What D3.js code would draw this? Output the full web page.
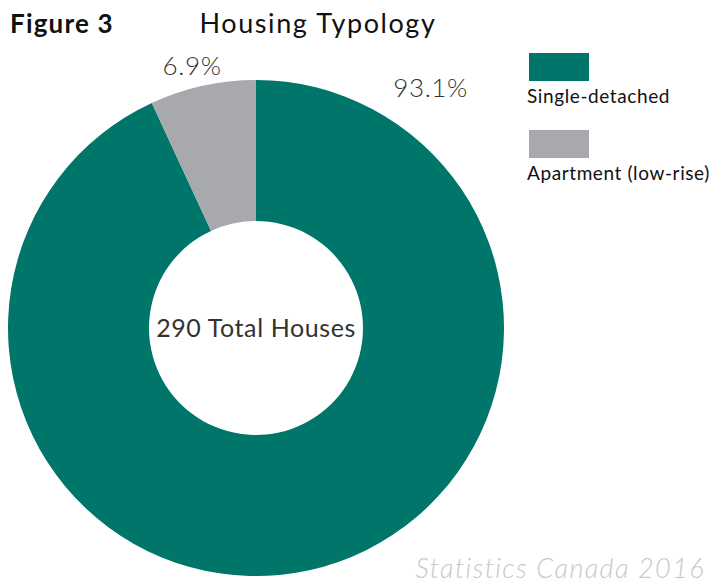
<!DOCTYPE html>
<html>
<head>
<meta charset="utf-8">
<script src="https://cdn.jsdelivr.net/npm/d3@7"></script>
<style>
  body { margin: 0; background: #fff; }
  svg text { font-family: Lato, "Open Sans", sans-serif; }
</style>
</head>
<body>
<svg id="chart"></svg>
<script>
// data
const categories = ["Single-detached", "Apartment (low-rise)"];
const shares = [93.1, 6.9];
const totalHouses = 290;
const colors = ["#00756a", "#a7a9ac"];

const width = 712, height = 584;
const cx = 256, cy = 328;
const outerR = 248, innerR = 107;

const svg = d3.select("#chart").attr("width", width).attr("height", height);

// titles
svg.append("text").attr("x", 10).attr("y", 33)
    .attr("font-size", 26).attr("font-weight", 700).attr("fill", "#111")
    .attr("letter-spacing", 1.2)
    .text("Figure 3");
svg.append("text").attr("x", 318).attr("y", 33)
    .attr("text-anchor", "middle")
    .attr("font-size", 27).attr("fill", "#111")
    .attr("letter-spacing", 1.6)
    .text("Housing Typology");

const color = d3.scaleOrdinal().domain(categories).range(colors);

const pie = d3.pie().sort(null).value(d => d.value);
const arcs = pie(categories.map((c, i) => ({name: c, value: shares[i]})));
const arc = d3.arc().innerRadius(innerR).outerRadius(outerR);

const g = svg.append("g").attr("transform", `translate(${cx},${cy})`);
g.selectAll("path")
    .data(arcs)
    .enter()
    .append("path")
        .attr("d", arc)
        .attr("fill", d => color(d.data.name));

// percentage labels, placed where Excel put them (outside the ring)
const labelAngle = [36, -13.7].map(a => a * Math.PI / 180);
const labelR = [297, 270];
g.selectAll("text.pct")
    .data(arcs)
    .enter()
    .append("text")
        .attr("class", "pct")
        .attr("transform", (d, i) =>
            `translate(${labelR[i] * Math.sin(labelAngle[i])},${-labelR[i] * Math.cos(labelAngle[i])})`)
        .attr("text-anchor", "middle")
        .attr("dy", "0.35em")
        .attr("font-size", 26)
        .attr("font-weight", 300)
        .attr("letter-spacing", 0.6)
        .attr("fill", "#333")
        .text(d => d3.format(".1f")(d.data.value) + "%");

// centre label
g.append("text")
    .attr("text-anchor", "middle")
    .attr("dy", "0.35em")
    .attr("font-size", 25)
    .attr("letter-spacing", 0.6)
    .attr("fill", "#333")
    .text(`${totalHouses} Total Houses`);

// legend
const legend = svg.append("g").attr("transform", "translate(529,53)");
const item = legend.selectAll("g")
    .data(categories)
    .enter()
    .append("g")
        .attr("transform", (d, i) => `translate(0,${i * 77})`);
item.append("rect")
    .attr("width", 60).attr("height", 28)
    .attr("fill", d => color(d));
item.append("text")
    .attr("x", -2).attr("y", 50)
    .attr("font-size", 19)
    .attr("letter-spacing", 0.6)
    .attr("fill", "#111")
    .text(d => d);

// source
svg.append("text")
    .attr("x", 705).attr("y", 578)
    .attr("text-anchor", "end")
    .attr("font-size", 27)
    .attr("font-style", "italic")
    .attr("font-weight", 300)
    .attr("letter-spacing", 1.4)
    .attr("fill", "#c8c8c8")
    .text("Statistics Canada 2016");
</script>
</body>
</html>
